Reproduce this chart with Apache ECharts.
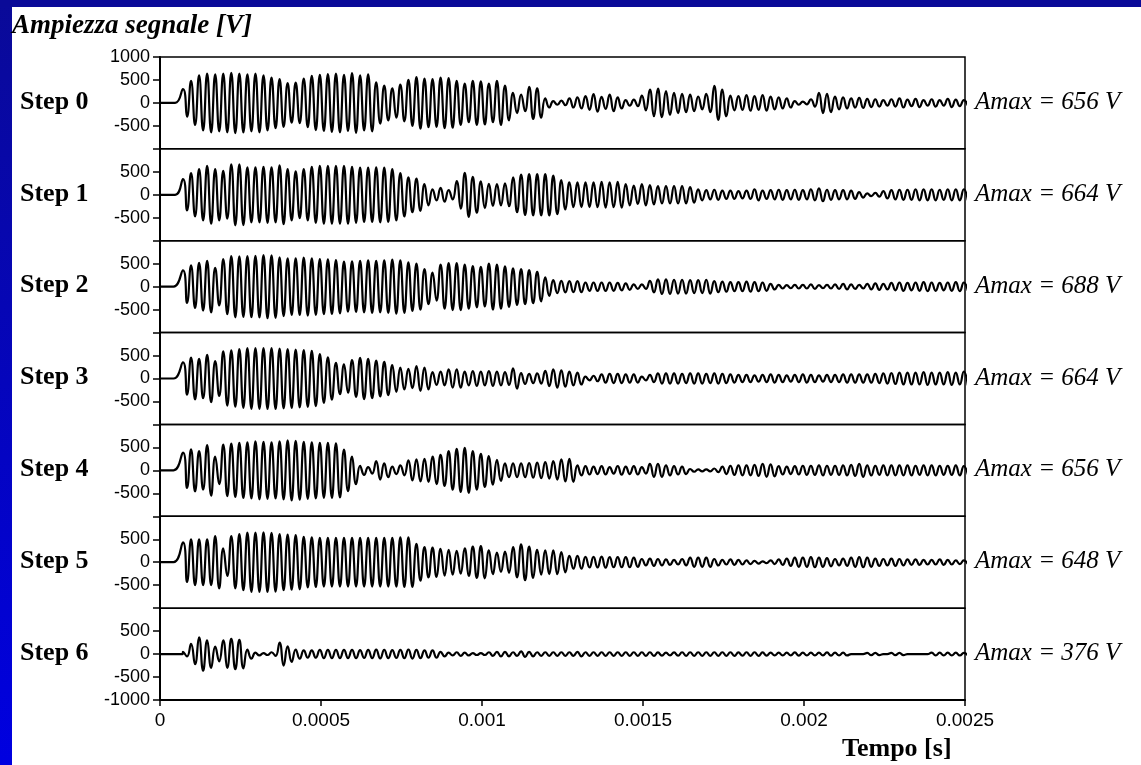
<!DOCTYPE html>
<html>
<head>
<meta charset="utf-8">
<script src="https://cdn.jsdelivr.net/npm/echarts@6/dist/echarts.min.js"></script>
<style>
html, body { margin: 0; padding: 0; background: #fff; }
#chart { width: 1141px; height: 765px; }
</style>
</head>
<body>
<div id="chart"></div>
<script>
// etichette e valori
var stepNames = ['Step 0', 'Step 1', 'Step 2', 'Step 3', 'Step 4', 'Step 5', 'Step 6'];
var amaxValues = [656, 664, 688, 664, 656, 648, 376];
var onsetTime = [0.000047, 0.000047, 0.000042, 0.000042, 0.000042, 0.000042, 0.00007];
var firstPeakTime = 0.0000714;
var period = 0.000025;

// ampiezza di ogni ciclo (V), un valore per periodo
var step0 = [300,480,600,640,620,640,656,640,620,640, 600,550,520,430,440,530,590,610,630,640,
  610,650,600,620,450,380,320,400,500,560, 530,520,550,540,480,420,480,470,420,480,
  380,220,180,350,320,100,40,50,100,120, 150,190,130,180,120,60,70,160,290,310,
  260,220,200,180,140,200,370,290,160,150, 170,150,170,140,120,100,40,30,80,220,
  200,140,120,100,110,90,80,60,80,100, 70,90,60,80,60,90,70,60];
var step1 = [340,470,560,630,560,520,664,660,600,600, 610,600,640,560,510,560,610,630,630,630,
  630,610,590,590,600,590,560,470,380,350, 230,120,150,100,300,480,390,290,240,230,
  250,380,440,450,450,450,420,320,270,270, 270,270,280,270,280,230,200,230,210,190,
  190,190,190,170,120,100,110,90,90,80, 90,120,90,100,110,100,110,100,120,140,
  110,100,100,90,60,30,40,80,100,110, 110,120,120,120,110,120,120,120];
var step2 = [355,464,520,560,410,600,667,660,665,670, 688,680,640,615,615,630,615,600,595,580,
  545,550,560,570,560,570,590,570,530,500, 380,305,480,510,510,480,450,430,500,480,
  440,400,380,360,320,200,140,125,120,120, 90,90,90,90,80,70,50,50,125,160,
  160,150,150,140,140,150,120,110,100,100, 110,100,90,60,40,35,40,40,50,35,
  40,50,60,50,40,60,70,60,80,90, 80,90,100,90,80,90,100,90];
var step3 = [350,455,430,515,380,590,615,640,660,660, 664,664,650,640,630,620,600,530,460,340,
  310,400,450,430,390,360,290,240,210,270, 240,140,150,200,200,150,160,150,160,150,
  140,220,120,100,110,165,200,180,150,130, 40,60,90,100,100,90,90,40,80,110,
  110,110,100,110,110,100,110,100,90,80, 80,70,80,90,80,70,80,90,80,70,
  80,80,90,90,90,90,100,110,120,130, 130,130,140,130,130,140,130,150];
var step4 = [384,457,420,550,300,560,580,600,610,630, 620,610,630,656,640,620,610,600,600,590,
  450,300,100,70,200,150,80,110,220,240, 250,300,340,420,470,490,420,360,310,230,
  150,150,150,160,170,180,200,240,250,110, 90,80,90,70,95,80,90,70,140,140,
  110,90,80,30,20,20,40,80,100,110, 110,120,140,130,90,80,90,100,100,110,
  100,100,110,120,140,110,100,110,110,110, 110,100,110,110,100,100,110,90];
var step5 = [430,500,500,500,570,300,570,610,645,645, 648,640,610,600,590,550,540,530,530,530,
  530,530,530,530,530,530,530,540,540,400, 330,320,290,270,250,300,340,350,260,210,
  230,330,390,340,270,260,260,220,140,140, 115,115,120,110,110,110,100,70,80,70,
  60,50,70,100,100,100,70,50,60,50, 40,30,20,40,60,80,100,100,110,100,
  90,70,80,100,110,100,80,70,80,70, 60,60,50,50,60,50,40,40];
var step6 = [50,220,362,300,160,300,330,310,100,30, 20,40,250,170,100,80,80,90,90,90,
  90,90,85,90,95,90,85,90,100,90, 80,80,50,30,40,30,20,20,40,50,
  50,40,60,50,40,40,40,40,40,50, 40,40,40,40,40,40,40,40,40,35,
  30,35,40,40,40,40,40,40,40,35, 40,40,35,30,30,30,35,30,30,30,
  35,30,30,0,0,25,25,0,25,25, 0,0,0,30,30,30,30,25];
var allSteps = [step0, step1, step2, step3, step4, step5, step6];

var xMin = 0, xMax = 0.0025, xInterval = 0.0005;
var yMin = -1000, yMax = 1000, yInterval = 500;

var chart = echarts.init(document.getElementById('chart'));

var plotLeft = 160, plotRight = 965, plotTop = 57, plotBottom = 700;
var panelH = (plotBottom - plotTop) / 7;
var serif = '"Liberation Serif", "Times New Roman", serif';
var sans = '"Liberation Sans", Arial, sans-serif';

function wave(amps, onset) {
    var pts = [[0, 0], [onset, 0]];
    for (var i = 0; i < amps.length; i++) {
        var t = firstPeakTime + i * period;
        pts.push([t, amps[i]]);
        pts.push([t + period / 2, -amps[i]]);
    }
    return pts;
}

function yLabels(idx) {
    return function (v) {
        if (v === 1000 && idx !== 0) return '';
        if (v === -1000 && idx !== 6) return '';
        return String(v);
    };
}

function xLabel(v) {
    return String(Math.round(v * 100000) / 100000);
}

var grids = [], xAxes = [], yAxes = [], series = [], graphics = [];

graphics.push({
    type: 'rect', left: 0, top: 0, z: -10, silent: true,
    shape: { x: 0, y: 0, width: 12, height: 765 },
    style: { fill: { type: 'linear', x: 0, y: 0, x2: 0, y2: 1,
        colorStops: [{ offset: 0, color: '#0a0a98' }, { offset: 1, color: '#0000e0' }] } }
});
graphics.push({
    type: 'rect', left: 0, top: 0, z: -10, silent: true,
    shape: { x: 0, y: 0, width: 1141, height: 7 },
    style: { fill: '#0a0a98' }
});
graphics.push({
    type: 'text', left: 12, top: 13,
    style: { text: 'Ampiezza segnale [V]', fontFamily: serif, fontSize: 27,
        fontStyle: 'italic', fontWeight: 'bold', fill: '#000' }
});
graphics.push({
    type: 'text', left: 842, top: 736,
    style: { text: 'Tempo [s]', fontFamily: serif, fontSize: 26, fontWeight: 'bold', fill: '#000' }
});

for (var i = 0; i < 7; i++) {
    var panelTop = plotTop + i * panelH;
    var last = i === 6;
    grids.push({
        left: plotLeft, width: plotRight - plotLeft, top: panelTop, height: panelH,
        show: true, borderColor: '#000', borderWidth: 1.5
    });
    xAxes.push({
        type: 'value', gridIndex: i, min: xMin, max: xMax, interval: xInterval,
        show: last,
        axisLine: { show: true, onZero: false, lineStyle: { color: '#000', width: 2 } },
        axisTick: { show: true, inside: false, length: 6, lineStyle: { color: '#000', width: 1.5 } },
        axisLabel: { show: last, color: '#000', fontFamily: sans, fontSize: 19, margin: 11,
            formatter: xLabel },
        splitLine: { show: false }
    });
    yAxes.push({
        type: 'value', gridIndex: i, min: yMin, max: yMax, interval: yInterval,
        axisLine: { show: true, lineStyle: { color: '#000', width: 2 } },
        axisTick: { show: true, inside: false, length: 7, lineStyle: { color: '#000', width: 1.5 } },
        axisLabel: { color: '#000', fontFamily: sans, fontSize: 18, margin: 10,
            showMinLabel: true, showMaxLabel: true, formatter: yLabels(i) },
        splitLine: { show: false }
    });
    series.push({
        type: 'line', xAxisIndex: i, yAxisIndex: i,
        data: wave(allSteps[i], onsetTime[i]),
        showSymbol: false, smooth: 0.5, clip: true,
        lineStyle: { color: '#000', width: 2.2 }
    });
    graphics.push({
        type: 'text', left: 20, top: panelTop + panelH / 2 - 14,
        style: { text: stepNames[i], fontFamily: serif, fontSize: 26, fontWeight: 'bold', fill: '#000' }
    });
    graphics.push({
        type: 'text', left: 975, top: panelTop + panelH / 2 - 13,
        style: { text: 'Amax = ' + amaxValues[i] + ' V', fontFamily: serif, fontSize: 25,
            fontStyle: 'italic', fill: '#000' }
    });
}

chart.setOption({
    animation: false,
    backgroundColor: '#fff',
    grid: grids,
    xAxis: xAxes,
    yAxis: yAxes,
    series: series,
    graphic: graphics
});
</script>
</body>
</html>
